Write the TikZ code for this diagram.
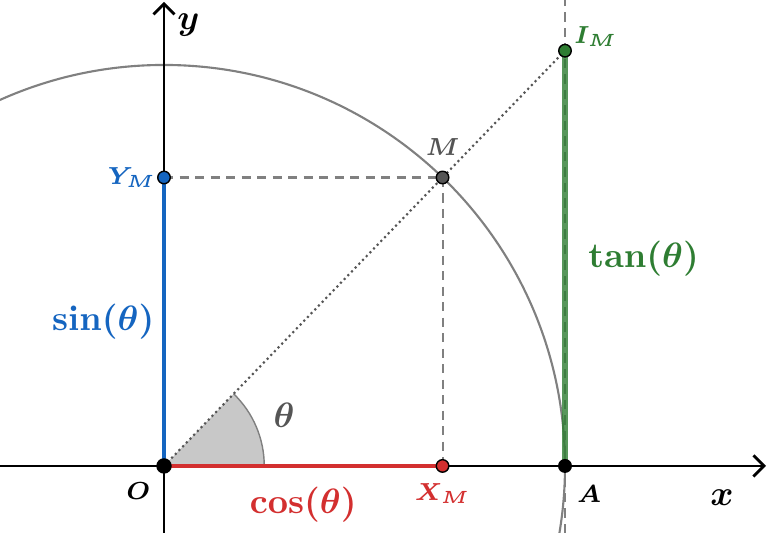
\documentclass[tikz,border=0pt]{standalone}
\usepackage{amsmath,amssymb}
\usepackage{bm}
\usepackage{xcolor}
\definecolor{sinblue}{RGB}{21,101,192}
\definecolor{cosred}{RGB}{211,47,47}
\definecolor{tangreen}{RGB}{46,125,50}
\definecolor{gray1}{RGB}{85,85,85}
\definecolor{sectorgray}{RGB}{200,200,200}
\usepackage{tikz}
\usetikzlibrary{arrows.meta,positioning,calc}

\begin{document}
\begin{tikzpicture}[
  axis/.style={thick,-{Straight Barb[length=3pt,width=6pt]}},
  guide/.style={gray,semithick,dash pattern=on 2.6pt off 1.8pt},
  dot/.style={circle,draw=black,line width=0.4pt,inner sep=0pt,minimum size=1.25mm},
  ptlabel/.style={font=\scriptsize\boldmath,inner sep=1pt},
  axlabel/.style={font=\normalsize\boldmath,inner sep=1pt},
  triglabel/.style={font=\normalsize\bfseries\boldmath,inner sep=1pt},
  trig/.style={line width=1.2pt},
]
\useasboundingbox (-1.636,-0.668) rectangle (6.015,4.648);
\def\ang{46}
\coordinate (O) at (0,0);
\coordinate (A) at (4,0);
\coordinate (M) at (\ang:4);
\coordinate (XM) at (M |- O);
\coordinate (YM) at (M -| O);
\coordinate (IM) at (4,{4*tan(\ang)});
\coordinate (xmin) at (-1.64,0);
\coordinate (xmax) at (6.005,0);
\coordinate (ymin) at (0,-0.67);
\coordinate (ymax) at (0,4.63);
\coordinate (tbot) at (4,-0.67);
\coordinate (ttop) at (4,4.65);

% unit circle and angle
\begin{scope}
  \clip (-1.636,-0.668) rectangle (6.015,4.648);
  \draw[gray,semithick] (O) circle (4);
\end{scope}
\fill[sectorgray] (O) -- (1,0) arc (0:\ang:1) -- cycle;
\draw[gray] (1,0) arc (0:\ang:1);
\node[font=\normalsize\boldmath,text=gray1] (thetalbl) at (\ang/2:1.3) {$\theta$};

% axes
\draw[axis] (xmin) -- (xmax);
\draw[axis] (ymin) -- (ymax);
\node[axlabel,below left=0.2cm and 0.28cm of xmax] (xlbl) {$x$};
\node[axlabel,below right=0.08cm and 0.09cm of ymax] (ylbl) {$y$};

% guides
\draw[guide] (tbot) -- (ttop);
\draw[guide] (YM) -- (M) -- (XM);
\draw[gray1,semithick,dash pattern=on 0.6pt off 0.9pt] (O) -- (IM);

% sin, cos, tan
\draw[trig,sinblue] (O) -- node[triglabel,left=0.04cm,text=sinblue] (sinlbl) {$\sin(\theta)$} (YM);
\draw[trig,cosred] (O) -- node[triglabel,below=0.15cm,text=cosred] (coslbl) {$\cos(\theta)$} (XM);
\draw[tangreen,line width=1.6pt,opacity=.8] (A) -- node[triglabel,right=0.17cm,text=tangreen,opacity=1] (tanlbl) {$\tan(\theta)$} (IM);

% points
\node[dot,fill=black,minimum size=1.4mm] (pO) at (O) {};
\node[dot,fill=black] (pA) at (A) {};
\node[dot,fill=gray1] (pM) at (M) {};
\node[dot,fill=cosred] (pXM) at (XM) {};
\node[dot,fill=sinblue] (pYM) at (YM) {};
\node[dot,fill=tangreen] (pIM) at (IM) {};

\node[ptlabel,below left=0.07cm and 0.04cm of pO] (Olbl) {$O$};
\node[ptlabel,below right=0.1cm and 0.03cm of pA] (Albl) {$A$};
\node[ptlabel,above=0.11cm of pM,text=gray1] (Mlbl) {$M$};
\node[ptlabel,below=0.06cm of pXM,text=cosred] (XMlbl) {$X_M$};
\node[ptlabel,left=-0.03cm of pYM,text=sinblue] (YMlbl) {$Y_M$};
\node[ptlabel,above right=-0.05cm and 0.0cm of pIM,text=tangreen] (IMlbl) {$I_M$};
\end{tikzpicture}
\end{document}
